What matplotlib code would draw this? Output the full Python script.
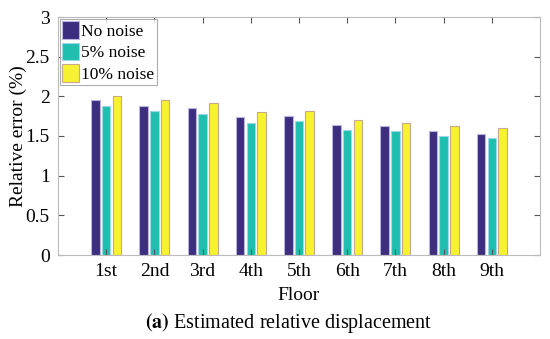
import numpy as np
import matplotlib
matplotlib.use('Agg')
import matplotlib.pyplot as plt

floors = ['1st', '2nd', '3rd', '4th', '5th', '6th', '7th', '8th', '9th']
no_noise = [1.96, 1.88, 1.85, 1.74, 1.75, 1.64, 1.62, 1.56, 1.53]
noise_5 = [1.88, 1.81, 1.78, 1.67, 1.69, 1.58, 1.56, 1.50, 1.48]
noise_10 = [2.01, 1.95, 1.91, 1.80, 1.81, 1.70, 1.67, 1.62, 1.60]
series_names = ['No noise', '5% noise', '10% noise']

colors = ['#3d2d7e', '#1fbfb0', '#f7f231']
edges = ['#b9b3e0', '#9ad8e8', '#c9a98a']

plt.rcParams['font.family'] = ['Liberation Serif', 'DejaVu Serif']
plt.rcParams['mathtext.fontset'] = 'stix'

fig = plt.figure(figsize=(5.5, 3.39), dpi=100)
ax = fig.add_axes([58 / 550, 1 - 255 / 339, 482 / 550, 238 / 339])

x = np.arange(1, len(floors) + 1)
w = 0.178
offs = [-0.222, 0.0, 0.222]
for vals, c, ec, o, name in zip([no_noise, noise_5, noise_10], colors, edges, offs, series_names):
    ax.bar(x + o, vals, w, color=c, edgecolor=ec, linewidth=0.8, label=name)

ax.set_xlim(0, 10)
ax.set_ylim(0, 3)
ax.set_xticks(x)
ax.set_xticklabels(floors)
ax.set_yticks(np.arange(0, 3.01, 0.5))
ax.set_yticklabels(['0', '0.5', '1', '1.5', '2', '2.5', '3'])
ax.tick_params(direction='in', top=True, right=True, labelsize=14, length=4,
               color='#555555', pad=6)
for s in ax.spines.values():
    s.set_color('#bbbbbb')
    s.set_linewidth(0.8)

ax.set_xlabel('Floor', fontsize=14, labelpad=5)
ax.set_ylabel('Relative error (%)', fontsize=14, labelpad=-1)

leg = ax.legend(loc='upper left', fontsize=12.5, frameon=True, fancybox=False,
                borderaxespad=0.1, handlelength=0.95, handleheight=1.2,
                handletextpad=0.15, borderpad=0.15, labelspacing=0.15)
leg.get_frame().set_edgecolor('#999999')
leg.get_frame().set_linewidth(0.8)

fig.text(0.524, 1 - 323 / 339, r'$\mathbf{(a)}$ Estimated relative displacement',
         ha='center', va='center', fontsize=14.5)

fig.savefig('out.png', dpi=100)
